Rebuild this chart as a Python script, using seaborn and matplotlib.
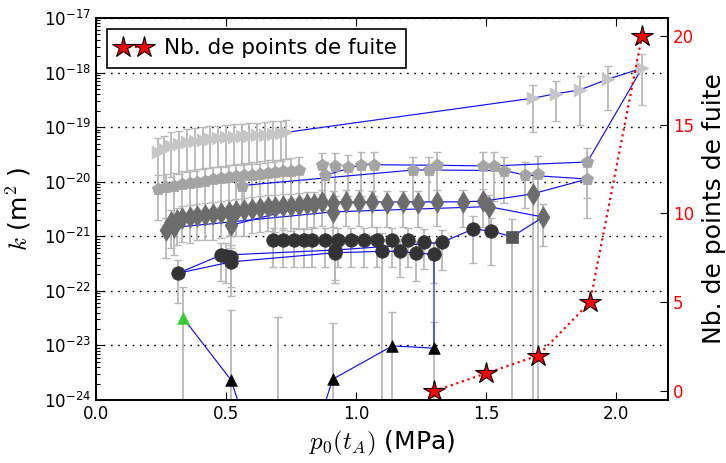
import numpy as np
import matplotlib
matplotlib.use("Agg")
import matplotlib.pyplot as plt
import seaborn as sns
from matplotlib.ticker import LogLocator, FuncFormatter, NullFormatter

# ---------------- data ----------------
# light grey right triangles
A_x = [0.24, 0.26, 0.29, 0.32, 0.35, 0.38, 0.41, 0.44, 0.47, 0.50, 0.53, 0.56, 0.59, 0.62, 0.65, 0.68, 0.71, 0.73,
       1.68, 1.77, 1.86, 1.97, 2.10]
A_k = [3.5e-20, 3.9e-20, 4.6e-20, 5.0e-20, 5.3e-20, 5.6e-20, 5.9e-20, 6.1e-20, 6.3e-20, 6.5e-20, 6.6e-20, 6.8e-20,
       7.0e-20, 7.1e-20, 7.3e-20, 7.5e-20, 7.7e-20, 8.0e-20,
       3.4e-19, 4.1e-19, 4.8e-19, 7.6e-19, 1.2e-18]
A_err = [2.8e-20, 3.0e-20, 3.4e-20, 3.6e-20, 3.8e-20, 4.0e-20, 4.2e-20, 4.3e-20, 4.4e-20, 4.6e-20, 4.6e-20, 4.8e-20,
         4.9e-20, 5.0e-20, 5.1e-20, 5.2e-20, 5.3e-20, 5.4e-20,
         2.6e-19, 2.8e-19, 3.7e-19, 5.5e-19, 9.5e-19]

# grey pentagons
B_x = [0.24, 0.27, 0.30, 0.33, 0.36, 0.39, 0.42, 0.45, 0.48, 0.51, 0.54, 0.57, 0.60, 0.63, 0.66, 0.69, 0.72, 0.75,
       0.78, 0.56, 0.88,
       0.87, 0.92, 0.97, 1.02, 1.07, 1.22, 1.28, 1.31, 1.49, 1.53, 1.57, 1.65, 1.70, 1.89, 1.89]
B_k = [7.5e-21, 8.0e-21, 8.5e-21, 9.0e-21, 9.6e-21, 1.0e-20, 1.05e-20, 1.1e-20, 1.15e-20, 1.2e-20, 1.25e-20,
       1.3e-20, 1.35e-20, 1.4e-20, 1.45e-20, 1.5e-20, 1.55e-20, 1.6e-20, 1.65e-20, 8.5e-21, 1.3e-20,
       2.0e-20, 1.95e-20, 1.85e-20, 2.05e-20, 2.05e-20, 1.64e-20, 1.64e-20, 2.0e-20, 1.95e-20, 1.95e-20,
       1.6e-20, 1.33e-20, 1.4e-20, 2.3e-20, 1.12e-20]
B_err = [5.5e-21, 5.8e-21, 6.1e-21, 6.4e-21, 6.8e-21, 7.0e-21, 7.4e-21, 7.7e-21, 8.0e-21, 8.4e-21, 8.7e-21,
         9.1e-21, 9.4e-21, 9.8e-21, 1.0e-20, 1.05e-20, 1.08e-20, 1.12e-20, 1.15e-20, 6.0e-21, 1.0e-20,
         1.4e-20, 1.4e-20, 1.3e-20, 1.5e-20, 1.5e-20, 1.2e-20, 1.2e-20, 1.5e-20, 1.5e-20, 1.5e-20,
         1.2e-20, 1.0e-20, 1.6e-20, 1.8e-20, 9.0e-21]

# dark grey diamonds
C_x = [0.27, 0.29, 0.31, 0.33, 0.36, 0.39, 0.42, 0.45, 0.48, 0.51, 0.54, 0.57, 0.60, 0.63, 0.66, 0.69, 0.72, 0.75,
       0.78, 0.81, 0.84, 0.52, 0.30,
       0.87, 0.91, 0.91, 0.96, 1.01, 1.06, 1.12, 1.18, 1.24, 1.31, 1.41, 1.49, 1.51, 1.68, 1.72]
C_k = [1.3e-21, 1.8e-21, 2.0e-21, 2.2e-21, 2.25e-21, 2.35e-21, 2.45e-21, 2.55e-21, 2.65e-21, 2.8e-21, 2.9e-21,
       3.0e-21, 3.15e-21, 3.3e-21, 3.45e-21, 3.5e-21, 3.6e-21, 3.65e-21, 3.75e-21, 3.85e-21, 3.9e-21,
       1.6e-21, 1.45e-21,
       4.25e-21, 4.1e-21, 2.8e-21, 4.25e-21, 4.25e-21, 4.2e-21, 4.1e-21, 4.2e-21, 4.1e-21, 4.25e-21,
       4.3e-21, 4.4e-21, 3.5e-21, 6.0e-21, 2.25e-21]
C_err = [9.0e-22, 1.2e-21, 1.3e-21, 1.4e-21, 1.5e-21, 1.5e-21, 1.6e-21, 1.7e-21, 1.7e-21, 1.8e-21, 1.9e-21,
         2.0e-21, 2.0e-21, 2.1e-21, 2.2e-21, 2.3e-21, 2.3e-21, 2.4e-21, 2.4e-21, 2.5e-21, 2.5e-21,
         1.1e-21, 1.0e-21,
         2.7e-21, 2.6e-21, 1.8e-21, 2.7e-21, 2.7e-21, 2.7e-21, 2.6e-21, 2.7e-21, 2.6e-21, 2.7e-21,
         2.8e-21, 2.9e-21, 2.3e-21, 7.0e-21, 1.6e-21]

# dark circles
D_x = [0.68, 0.72, 0.76, 0.80, 0.83, 0.88, 0.93, 0.98, 1.03, 1.08, 1.14, 1.20, 1.26, 1.33,
       0.315, 0.48, 0.50, 0.52, 0.52, 0.92, 0.92, 1.10, 1.17, 1.23, 1.30, 1.45, 1.52]
D_k = [8.5e-22, 8.5e-22, 8.4e-22, 8.5e-22, 8.6e-22, 8.5e-22, 8.4e-22, 8.5e-22, 8.5e-22, 8.6e-22, 8.5e-22,
       8.4e-22, 8.0e-22, 7.7e-22,
       2.1e-22, 4.5e-22, 4.4e-22, 3.4e-22, 4.1e-22, 5.0e-22, 5.6e-22, 5.3e-22, 5.3e-22, 4.9e-22, 4.7e-22,
       1.36e-21, 1.25e-21]
D_err = [5.8e-22, 5.8e-22, 5.7e-22, 5.8e-22, 5.9e-22, 5.8e-22, 5.7e-22, 5.8e-22, 5.8e-22, 5.9e-22, 5.8e-22,
         5.7e-22, 5.5e-22, 5.3e-22,
         1.5e-22, 3.0e-22, 3.0e-22, 2.6e-22, 2.9e-22, 3.6e-22, 4.0e-22, 6.0e-22, 3.5e-22, 3.4e-22, 3.3e-22,
         1.04e-21, 9.5e-22]

# square
E_x = [1.60]
E_k = [9.8e-22]
E_err = [1.1e-21]

# black triangles (some below the axis range)
F_x = [0.52, 0.58, 0.70, 0.85, 0.91, 1.14, 1.30]
F_k = [2.3e-24, 3.0e-25, 1.0e-25, 3.0e-25, 2.4e-24, 9.8e-24, 8.9e-24]
F_err = [4.3e-23, 2.0e-25, 3.3e-23, 2.0e-25, 2.3e-23, 3.2e-23, 1.8e-23]

# green triangle
G_x = [0.335]
G_k = [3.2e-23]
G_err = [8.8e-23]

# chronological paths (blue lines)
P1_x = [0.73, 1.68, 1.77, 1.86, 1.97, 2.10, 1.89, 1.53, 1.49, 1.31, 1.07, 1.02, 0.88]
P1_k = [8.0e-20, 3.4e-19, 4.1e-19, 4.8e-19, 7.6e-19, 1.2e-18, 2.3e-20, 1.95e-20, 1.95e-20, 2.0e-20, 2.05e-20,
        2.05e-20, 1.3e-20]
P2_x = [0.56, 1.22, 1.28, 1.57, 1.65, 1.89]
P2_k = [8.5e-21, 1.64e-20, 1.64e-20, 1.6e-20, 1.33e-20, 1.12e-20]
P3_x = [0.30, 0.91, 1.51, 1.72, 1.60, 1.52, 1.45, 1.33, 0.92, 0.48, 0.315, 0.52, 0.92, 1.10, 1.17, 1.23, 1.30,
        1.30, 1.14, 0.91, 0.85, 0.58, 0.52, 0.335]
P3_k = [1.45e-21, 2.8e-21, 3.5e-21, 2.25e-21, 9.8e-22, 1.25e-21, 1.36e-21, 7.7e-22, 5.6e-22, 4.5e-22, 2.1e-22,
        3.4e-22, 5.0e-22, 5.3e-22, 5.3e-22, 4.9e-22, 4.7e-22,
        8.9e-24, 9.8e-24, 2.4e-24, 3.0e-25, 3.0e-25, 2.3e-24, 3.2e-23]
P4_x = [0.52, 0.87, 1.31, 1.41, 1.49, 1.68, 1.89]
P4_k = [1.6e-21, 4.25e-21, 4.25e-21, 4.3e-21, 4.4e-21, 6.0e-21, 1.12e-20]

# leak points (right axis)
S_x = [1.3, 1.5, 1.7, 1.9, 2.1]
S_n = [0, 1, 2, 5, 20]

x_ticks = [0.0, 0.5, 1.0, 1.5, 2.0]
x_ticklabels = ["0.0", "0.5", "1.0", "1.5", "2.0"]
right_ticks = [0, 5, 10, 15, 20]

# ---------------- style ----------------
sns.set_style("ticks")
plt.rcParams.update({
    "font.family": ["DejaVu Sans"],
    "mathtext.fontset": "cm",
    "text.color": "black", "axes.labelcolor": "black",
    "xtick.direction": "in", "ytick.direction": "in",
    "axes.edgecolor": "black", "axes.linewidth": 1.3,
    "xtick.color": "black", "ytick.color": "black",
    "xtick.major.size": 6, "ytick.major.size": 6,
    "ytick.minor.size": 3, "ytick.minor.width": 0.8,
    "xtick.labelsize": 12, "ytick.labelsize": 12,
})

fig = plt.figure(figsize=(7.26, 4.63), dpi=100)
ax = fig.add_axes([96 / 726, 1 - 400 / 463, (668 - 96) / 726, (400 - 18) / 463])
ax.set_yscale("log")
ax.set_xlim(0, 2.2)
ax.set_ylim(1e-24, 1e-17)

err_style = dict(fmt="none", ecolor="#b8b8b8", elinewidth=1.3, capsize=3, capthick=1, zorder=2)
for xs, ks, es in [(A_x, A_k, A_err), (B_x, B_k, B_err), (C_x, C_k, C_err), (D_x, D_k, D_err),
                   (E_x, E_k, E_err), (F_x, F_k, F_err), (G_x, G_k, G_err)]:
    cont = ax.errorbar(xs, ks, yerr=es, **err_style)
    for cap in cont[1]:
        cap.set_color("#222222")

for px, pk in [(P1_x, P1_k), (P2_x, P2_k), (P3_x, P3_k), (P4_x, P4_k)]:
    sns.lineplot(x=px, y=pk, sort=False, estimator=None, color="#1010ff", lw=0.85, ax=ax, zorder=3)

series = [
    (A_x, A_k, ">", 85, "#c6c6c6"),
    (B_x, B_k, "p", 85, "#a4a4a4"),
    (C_x, C_k, "d", 120, "#6c6c6c"),
    (D_x, D_k, "o", 95, "#333333"),
    (E_x, E_k, "s", 65, "#555555"),
    (F_x, F_k, "^", 70, "black"),
    (G_x, G_k, "^", 70, "#33cc33"),
]
for xs, ks, m, s, c in series:
    sns.scatterplot(x=xs, y=ks, marker=m, s=s, color=c, edgecolor=c, linewidth=0.5, ax=ax, zorder=4,
                    legend=False)

ax.set_xticks(x_ticks)
ax.set_xticklabels(x_ticklabels)
ax.yaxis.set_major_locator(LogLocator(base=10, numticks=20))
ax.yaxis.set_minor_locator(LogLocator(base=10, subs=np.arange(2, 10), numticks=20))
ax.yaxis.set_minor_formatter(NullFormatter())
ax.yaxis.set_major_formatter(FuncFormatter(lambda v, _: r"$\mathregular{10^{%d}}$" % int(round(np.log10(v)))))
ax.tick_params(axis="x", which="both", top=True, bottom=True)
ax.tick_params(axis="y", which="both", left=True, right=False)
ax.yaxis.grid(True, which="major", linestyle=(0, (1.2, 4)), color="black", lw=1.0)
ax.set_axisbelow(True)
ax.set_xlabel(r"$p_0(t_A)$ (MPa)", fontsize=18, color="black")
ax.set_ylabel(r"$k$ (m$^2$ )", fontsize=18, labelpad=8, color="black")

ax2 = ax.twinx()
sns.lineplot(x=S_x, y=S_n, ax=ax2, color="red", linestyle=":", lw=1.6, marker="*", markersize=16,
             markerfacecolor="red", markeredgecolor="black", markeredgewidth=0.8)
ax2.set_ylim(-0.5, 21)
ax2.set_yticks(right_ticks)
ax2.tick_params(axis="y", colors="black", labelcolor="red", direction="in", length=6)
for t in ax2.get_yticklabels():
    t.set_color("red")
ax2.set_ylabel("Nb. de points de fuite", fontsize=18, labelpad=6, color="black")
star_line = ax2.get_lines()[0]
leg = ax2.legend(handles=[star_line], labels=["Nb. de points de fuite"], loc="upper left", numpoints=2,
                 fontsize=15.5, handlelength=1.6, handletextpad=0.6, fancybox=False, framealpha=1,
                 edgecolor="black", borderaxespad=0.5, borderpad=0.45, labelcolor="black")
leg.get_frame().set_linewidth(1.2)

fig.savefig("out.png", dpi=100)
